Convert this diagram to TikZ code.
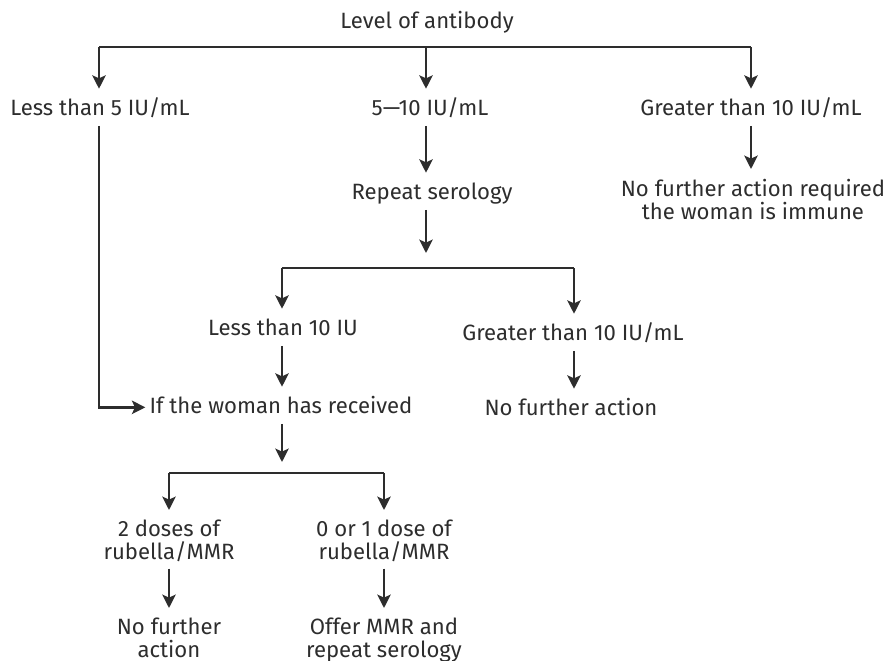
\documentclass[tikz,border=0pt]{standalone}
\usepackage{fontspec}
\setmainfont{Fira Sans}
\usetikzlibrary{arrows.meta}
\definecolor{ink}{RGB}{45,45,45}

\begin{document}
\begin{tikzpicture}[x=0.75pt, y=-0.75pt,
  txt/.style={font=\fontsize{16.6}{17.3}\selectfont, text=ink, inner xsep=0pt, inner ysep=4.5pt, text height=12pt, text depth=3.5pt},
  txttwo/.style={font=\fontsize{16.6}{17.3}\selectfont, text=ink, align=center, inner xsep=0pt, inner ysep=4.5pt},
  bar/.style={draw=ink, line width=2.1pt},
  arr/.style={draw=ink, line width=2.1pt, shorten >=3pt, -{Stealth[length=10pt, width=10pt, inset=2.2pt]}}]
\useasboundingbox (0,0) rectangle (890,661);

\def\ya{47};
\def\yb{268};
\def\yc{473};

% first split
\node[txt, anchor=base] (lvl) at (427,28) {Level of antibody};
\coordinate (b1l) at (99,\ya);
\coordinate (b1m) at (426,\ya);
\coordinate (b1r) at (751,\ya);
\draw[bar] (b1l) -- (b1r);

\node[txt, anchor=base] (lt5) at (100,115) {Less than 5 IU/mL};
\node[txt, anchor=base] (mid) at (430,115) {5---10 IU/mL};
\node[txt, anchor=base] (gt10) at (751,115) {Greater than 10 IU/mL};

\draw[arr] (b1l) -- (b1l |- lt5.north);
\draw[arr] (b1m) -- (b1m |- mid.north);
\draw[arr] (b1r) -- (b1r |- gt10.north);

% right branch
\node[txttwo, anchor=north] (immune) at (753,173) {No further action required\\the woman is immune};
\draw[arr] (gt10.south -| b1r) -- (immune.north -| b1r);

% middle branch
\node[txt, anchor=base] (rep) at (432,199) {Repeat serology};
\draw[arr] (mid.south -| b1m) -- (rep.north -| b1m);

\coordinate (j2) at (426,257);
\coordinate (b2l) at (282,\yb);
\coordinate (b2r) at (574,\yb);
\draw[arr] (rep.south -| b1m) -- (j2);
\draw[bar] (b2l) -- (b2r);

\node[txt, anchor=base] (lt10) at (283,335) {Less than 10 IU};
\node[txt, anchor=base] (gt10b) at (573,340) {Greater than 10 IU/mL};
\draw[arr] (b2l) -- (b2l |- lt10.north);
\draw[arr] (b2r) -- (b2r |- gt10b.north);

\node[txt, anchor=base] (nfa) at (571,415) {No further action};
\draw[arr] (gt10b.south -| b2r) -- (nfa.north -| b2r);

% received doses
\node[txt, anchor=base] (recv) at (281,413) {If the woman has received};
\draw[arr] (lt10.south -| b2l) -- (recv.north -| b2l);
\draw[arr] (lt5.south -| b1l) |- (recv.west);

\coordinate (j3) at (282,466);
\coordinate (b3l) at (169,\yc);
\coordinate (b3r) at (384,\yc);
\draw[arr] (recv.south -| j3) -- (j3);
\draw[bar] (b3l) -- (b3r);

\node[txttwo, anchor=north] (two) at (169,514) {2 doses of\\rubella/MMR};
\node[txttwo, anchor=north] (zero) at (384,514) {0 or 1 dose of\\rubella/MMR};
\draw[arr] (b3l) -- (two.north);
\draw[arr] (b3r) -- (zero.north);

\node[txttwo, anchor=north] (nfatwo) at (169,612) {No further\\action};
\node[txttwo, anchor=north] (offer) at (384,612) {Offer MMR and\\repeat serology};
\draw[arr] (two.south) -- (nfatwo.north);
\draw[arr] (zero.south) -- (offer.north);

\end{tikzpicture}
\end{document}
